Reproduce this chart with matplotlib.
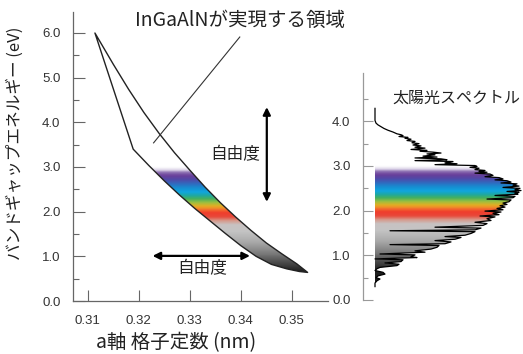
import numpy as np
import matplotlib
matplotlib.use('Agg')
import matplotlib.pyplot as plt
from matplotlib.colors import LinearSegmentedColormap, Normalize
from matplotlib.patches import Polygon
from matplotlib.ticker import MultipleLocator, FixedLocator

plt.rcParams['font.family'] = ['Liberation Sans', 'Noto Sans CJK JP']
JP = ['Noto Sans CJK JP', 'DejaVu Sans']

# --- 読み取った値 ---
# AlInN側の上側境界 (AlN -> InN)
upper_a = [0.3114, 0.3150, 0.3180, 0.3210, 0.3240, 0.3270, 0.3300, 0.3330,
           0.3360, 0.3390, 0.3420, 0.3450, 0.3480, 0.3510, 0.3531]
upper_E = [6.00, 5.30, 4.74, 4.22, 3.75, 3.32, 2.93, 2.55,
           2.20, 1.88, 1.58, 1.30, 1.06, 0.83, 0.64]
# InGaN側の下側境界 (GaN -> InN)
lower_a = [0.3189, 0.3220, 0.3250, 0.3280, 0.3310, 0.3340, 0.3370, 0.3400,
           0.3430, 0.3460, 0.3490, 0.3515, 0.3531]
lower_E = [3.40, 3.03, 2.69, 2.37, 2.07, 1.79, 1.51, 1.24,
           1.00, 0.82, 0.72, 0.66, 0.64]

# 太陽光スペクトル (エネルギー eV, 強度 任意単位)
spec_E = [4.29, 4.02, 3.96, 3.92, 3.88, 3.84, 3.80, 3.76, 3.72, 3.70, 3.68, 3.66,
          3.64, 3.62, 3.60, 3.57, 3.55, 3.52, 3.50, 3.47, 3.45, 3.42, 3.40, 3.37,
          3.35, 3.33, 3.31, 3.29, 3.27, 3.25, 3.22, 3.20, 3.18, 3.16, 3.14, 3.12,
          3.10, 3.07, 3.05, 3.03, 3.01, 2.99, 2.97, 2.95, 2.92, 2.90, 2.88, 2.86,
          2.84, 2.82, 2.79, 2.76, 2.74, 2.71, 2.69, 2.67, 2.64, 2.62, 2.60, 2.57,
          2.55, 2.52, 2.50, 2.47, 2.45, 2.43, 2.41, 2.39, 2.37, 2.34, 2.32, 2.29,
          2.26, 2.24, 2.20, 2.17, 2.14, 2.11, 2.08, 2.05, 2.02, 1.99, 1.97, 1.94,
          1.91, 1.88, 1.86, 1.82, 1.78, 1.74, 1.71, 1.67, 1.63, 1.61, 1.57, 1.55,
          1.53, 1.49, 1.45, 1.42, 1.40, 1.36, 1.33, 1.30, 1.26, 1.24, 1.22, 1.18,
          1.14, 1.10, 1.07, 1.03, 1.01, 0.97, 0.95, 0.92, 0.90, 0.86, 0.83, 0.80,
          0.77, 0.73, 0.70, 0.66, 0.62, 0.58, 0.54, 0.50, 0.47, 0.43, 0.38, 0.30]
spec_I = [0, 0, 1, 3, 6, 9, 13, 18, 22, 26, 28, 24,
          33, 30, 36, 32, 40, 37, 44, 38, 46, 40, 50, 36,
          52, 45, 58, 66, 52, 60, 48, 62, 40, 66, 72, 40,
          78, 70, 82, 60, 100, 102, 95, 104, 100, 110, 104, 112,
          100, 115, 118, 110, 124, 128, 120, 132, 136, 126, 142, 138,
          144, 128, 145, 140, 146, 132, 144, 140, 143, 120, 140, 138,
          112, 136, 134, 128, 132, 125, 130, 122, 128, 110, 126, 118,
          124, 105, 120, 112, 116, 100, 112, 108, 60, 106, 100, 15,
          100, 96, 90, 70, 86, 80, 60, 76, 70, 15, 64, 62,
          56, 40, 50, 5, 40, 36, 42, 0, 28, 26, 10, 24,
          22, 5, 2, 0, 8, 10, 3, 1, 5, 2, 0, 0]

x_ticks = [0.31, 0.32, 0.33, 0.34, 0.35]
y_ticks = [0, 1, 2, 3, 4, 5, 6]
spec_ticks = [0, 1, 2, 3, 4]

# エネルギー -> 色
E_MAX = 6.47
nodes = [(0.0, '#101010'), (0.65, '#202020'), (0.85, '#4a4a4a'), (1.05, '#7a7a7a'),
         (1.30, '#a8a8a8'), (1.55, '#c4c4c4'), (1.70, '#c8c2c2'), (1.80, '#d89484'),
         (1.88, '#e8493a'), (1.97, '#f03c2c'), (2.05, '#f27a2e'), (2.12, '#e6ad22'),
         (2.20, '#9cc040'), (2.28, '#45b05e'), (2.36, '#1fa8a2'), (2.44, '#10a6e0'),
         (2.52, '#1590d2'), (2.62, '#2f6cc0'), (2.72, '#5148a6'), (2.80, '#6a3f9a'),
         (2.88, '#8a6db0'), (2.93, '#dcd4e8'), (3.00, '#ffffff'), (E_MAX, '#ffffff')]
cmap = LinearSegmentedColormap.from_list('spec', [(e / E_MAX, c) for e, c in nodes])
norm = Normalize(0, E_MAX)
grad = np.linspace(0, E_MAX, 1000).reshape(-1, 1)

fig = plt.figure(figsize=(5.23, 3.54), dpi=100)
W, H = 523, 354

# --- メインの図 ---
ax = fig.add_axes([73 / W, (H - 301) / H, 255 / W, 289 / H])
xlim = (0.3071, 0.3571)
ylim = (0, E_MAX)

verts = list(zip(upper_a, upper_E)) + list(zip(lower_a, lower_E))[::-1]
region = Polygon(verts, closed=True, facecolor='none', edgecolor='#222222', lw=1.0,
                 joinstyle='round', zorder=3)
ax.add_patch(region)
im = ax.imshow(grad, extent=[xlim[0], xlim[1], 0, E_MAX], origin='lower', aspect='auto',
               cmap=cmap, norm=norm, zorder=2, interpolation='bilinear')
im.set_clip_path(region)

# 引き出し線
ax.plot([0.3229, 0.3398], [3.54, 5.91], color='#333333', lw=0.8, zorder=4)
ax.text(0.3398, 6.29, 'InGaAlNが実現する領域', family=JP, fontsize=14,
        ha='center', va='center', color='#222222')

# 自由度の矢印
ax.annotate('', xy=(0.3451, 4.34), xytext=(0.3451, 2.22),
            arrowprops=dict(arrowstyle='<|-|>', lw=1.6, color='black', mutation_scale=11,
                            shrinkA=0, shrinkB=0))
ax.annotate('', xy=(0.3227, 1.01), xytext=(0.3418, 1.01),
            arrowprops=dict(arrowstyle='<|-|>', lw=1.6, color='black', mutation_scale=11,
                            shrinkA=0, shrinkB=0))
ax.text(0.3390, 3.27, '自由度', family=JP, fontsize=12, ha='center', va='center', color='#222222')
ax.text(0.33235, 0.72, '自由度', family=JP, fontsize=12, ha='center', va='center', color='#222222')

ax.set_xlim(xlim)
ax.set_ylim(ylim)
ax.set_xticks(x_ticks)
ax.set_xticklabels([f'{v:.2f}' for v in x_ticks])
ax.set_yticks(y_ticks)
ax.set_yticklabels([f'{v:.1f}' for v in y_ticks])
ax.yaxis.set_minor_locator(MultipleLocator(0.5))
ax.tick_params(axis='both', direction='in', colors='#666666', labelcolor='#333333', labelsize=9.5)
ax.tick_params(axis='y', which='major', length=8.5, width=0.8, pad=9)
ax.tick_params(axis='y', which='minor', direction='in', length=4.5, width=0.8, colors='#666666')
ax.tick_params(axis='x', which='major', length=8, width=0.8, pad=10)
for s in ['top', 'right']:
    ax.spines[s].set_visible(False)
for s in ['left', 'bottom']:
    ax.spines[s].set_color('#666666')
    ax.spines[s].set_linewidth(0.9)
ax.set_facecolor('none')

fig.text(15 / W, 1 - 143 / H, 'バンドギャップエネルギー (eV)', family=JP, fontsize=12,
         rotation=90, ha='center', va='center', color='#222222')
fig.text(176 / W, 1 - 343 / H, 'a軸 格子定数 (nm)', family=JP, fontsize=14,
         ha='center', va='center', color='#222222')

# --- 太陽光スペクトル ---
ax2 = fig.add_axes([363 / W, (H - 300) / H, 160 / W, 227 / H])
s_ylim = (0, 227 / 44.67)
s_xlim = (-12, 148)
spec_verts = [(0, spec_E[0])] + list(zip(spec_I, spec_E)) + [(0, spec_E[-1])]
spec_poly = Polygon(spec_verts, closed=True, facecolor='none', edgecolor='none')
ax2.add_patch(spec_poly)
im2 = ax2.imshow(grad, extent=[s_xlim[0], s_xlim[1], 0, E_MAX], origin='lower', aspect='auto',
                 cmap=cmap, norm=norm, zorder=2, interpolation='bilinear')
im2.set_clip_path(spec_poly)
ax2.plot(spec_I, spec_E, color='black', lw=0.9, zorder=3)
ax2.text(81, 4.52, '太陽光スペクトル', family=JP, fontsize=11.5, ha='center', va='center',
         color='#222222')

ax2.set_xlim(s_xlim)
ax2.set_ylim(s_ylim)
ax2.set_xticks([])
ax2.yaxis.set_major_locator(FixedLocator(spec_ticks))
ax2.set_yticklabels([f'{v:.1f}' for v in spec_ticks])
ax2.yaxis.set_minor_locator(FixedLocator([0.5, 1.5, 2.5, 3.5, 4.5]))
ax2.tick_params(axis='y', which='major', direction='in', length=7, width=0.8, pad=9,
                colors='#999999', labelcolor='#333333', labelsize=9.5)
ax2.tick_params(axis='y', which='minor', direction='in', length=3.5, width=0.8, colors='#999999')
for s in ['top', 'right', 'bottom']:
    ax2.spines[s].set_visible(False)
ax2.spines['left'].set_color('#999999')
ax2.spines['left'].set_linewidth(0.9)
ax2.set_facecolor('none')

fig.savefig('out.png', dpi=100)
